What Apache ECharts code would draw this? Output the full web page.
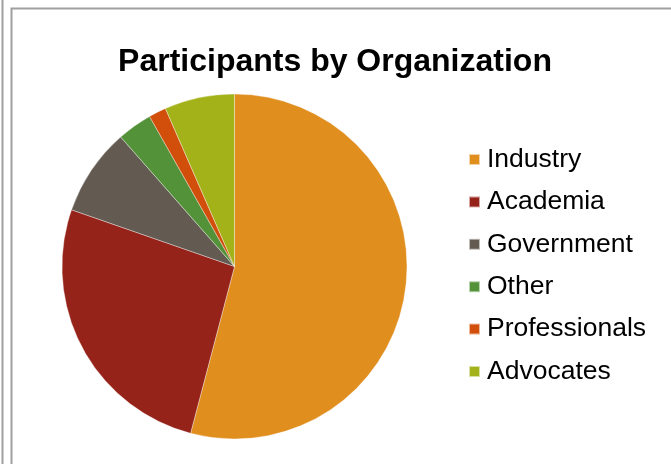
<!DOCTYPE html>
<html>
<head>
<meta charset="utf-8">
<script src="https://cdn.jsdelivr.net/npm/echarts@6/dist/echarts.min.js"></script>
<style>html,body{margin:0;padding:0;background:#fff;}#c{width:671px;height:464px;}</style>
</head>
<body>
<div id="c"></div>
<script>
var categories = ['Industry', 'Academia', 'Government', 'Other', 'Professionals', 'Advocates'];
var values = [33, 16, 5, 2, 1, 4];
var colors = ['#e08e1e', '#952319', '#635a52', '#54923a', '#d14f0a', '#a4b21a'];
var titleText = 'Participants by Organization';

var chart = echarts.init(document.getElementById('c'));
chart.setOption({
  animation: false,
  backgroundColor: '#ffffff',
  color: colors,
  title: {
    text: titleText,
    left: 330,
    textAlign: 'center',
    top: 41,
    textStyle: {fontFamily: 'Liberation Sans, Arial, sans-serif', fontWeight: 'bold', fontSize: 32, color: '#000'}
  },
  legend: {
    orient: 'vertical',
    left: 463,
    top: 141,
    itemWidth: 11,
    itemHeight: 11,
    itemGap: 15.4,
    icon: 'rect',
    textStyle: {fontFamily: 'Liberation Sans, Arial, sans-serif', fontSize: 26.5, color: '#000', padding: [0, 0, 0, 2]},
    data: categories
  },
  graphic: [
    {type: 'line', shape: {x1: 2.5, y1: 0, x2: 2.5, y2: 464}, style: {stroke: '#a0a0a0', lineWidth: 2}},
    {type: 'polyline', shape: {points: [[11.5, 464], [11.5, 8.5], [671, 8.5]]}, style: {stroke: '#a0a0a0', lineWidth: 2, fill: null}}
  ],
  series: [{
    type: 'pie',
    center: [234.5, 266.5],
    radius: 172.5,
    startAngle: 90,
    clockwise: true,
    label: {show: false},
    labelLine: {show: false},
    itemStyle: {borderColor: 'rgba(255,255,255,0.6)', borderWidth: 0.6},
    emphasis: {disabled: true},
    data: categories.map(function (c, i) { return {name: c, value: values[i]}; })
  }]
});
</script>
</body>
</html>
